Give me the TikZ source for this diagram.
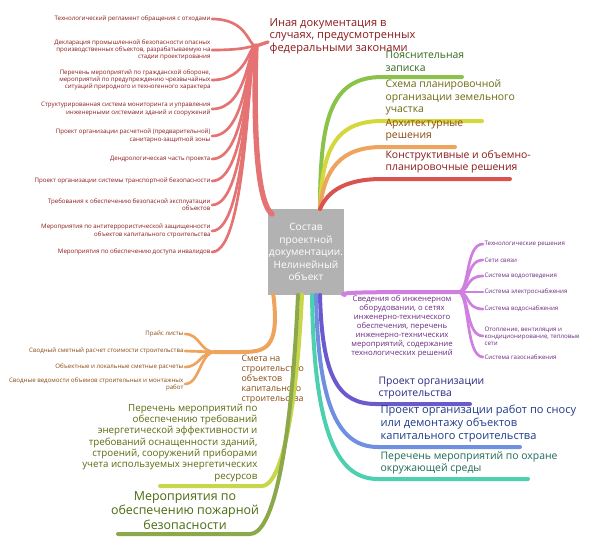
\documentclass[tikz,border=0pt]{standalone}
\usepackage{fontspec}
\setmainfont{Open Sans}
\begin{document}
\begin{tikzpicture}[x=0.75pt,y=-0.75pt,
  leaf/.style={font=\fontsize{4.6}{5.4}\selectfont,align=right,anchor=east,inner sep=1pt},
  rleaf/.style={font=\fontsize{4.6}{5.4}\selectfont,align=left,anchor=west,inner sep=1pt},
  main/.style={font=\fontsize{7.8}{9.4}\selectfont,align=left,anchor=south west,inner sep=1pt},
  br/.style={line width=#1,line cap=round},
  ]
\definecolor{cred}{HTML}{E57373}\definecolor{tred}{HTML}{8E2424}
\definecolor{cgreen}{HTML}{8BC34A}\definecolor{tgreen}{HTML}{33691E}
\definecolor{cyel}{HTML}{D4D83C}\definecolor{tyel}{HTML}{6D6A10}
\definecolor{corange}{HTML}{EFA45E}\definecolor{torange}{HTML}{8A4A10}
\definecolor{cbrick}{HTML}{D9534F}\definecolor{tbrick}{HTML}{8B1A1A}
\definecolor{cpurp}{HTML}{CE7FE0}\definecolor{tpurp}{HTML}{6A2A80}
\definecolor{cindigo}{HTML}{6A5ACD}\definecolor{tindigo}{HTML}{2A2A80}
\definecolor{cblue}{HTML}{6F8FE0}\definecolor{tblue}{HTML}{1F3A8A}
\definecolor{cteal}{HTML}{4DD0B0}\definecolor{tteal}{HTML}{1D6B5A}
\definecolor{colive}{HTML}{C8D64A}\definecolor{tolive}{HTML}{5C6B10}
\definecolor{cdolive}{HTML}{8DA84A}\definecolor{tdolive}{HTML}{4A6B10}
\useasboundingbox (0,0) rectangle (602,553);
\fill[white] (0,0) rectangle (602,553);
% center
\node[fill=black!30,text=white,minimum width=52pt,minimum height=64pt,align=center,font=\fontsize{7.6}{9.4}\selectfont,inner sep=1pt] (c) at (306,252) {Состав\\проектной\\документации.\\Нелинейный\\объект};
\coordinate (cT) at (320,209);
\coordinate (cNW) at (272,214);
% red branch
\coordinate (rh) at (256,46);
\node[main,text=tbrick,font=\fontsize{8.3}{9.6}\selectfont] (red) at (268,56) {Иная документация в\\случаях, предусмотренных\\федеральными законами};
\draw[cred,br=4pt] (cNW) .. controls (254,200) and (254,100) .. (rh);
\draw[cred,br=2.5pt] (rh) -- (268,42);
\foreach \y/\n/\t in {19/1/{Технологический регламент обращения с отходами},
50/2/{Декларация промышленной безопасности опасных\\производственных объектов, разрабатываемую на\\стадии проектирования},
80/3/{Перечень мероприятий по гражданской обороне,\\мероприятий по предупреждению чрезвычайных\\ситуаций природного и техногенного характера},
109/4/{Структурированная система мониторинга и управления\\инженерными системами зданий и сооружений},
136/5/{Проект организации расчетной (предварительной)\\санитарно-защитной зоны},
159/6/{Дендрологическая часть проекта},
181/7/{Проект организации системы транспортной безопасности},
205/8/{Требования к обеспечению безопасной эксплуатации\\объектов},
231/9/{Мероприятия по антитеррористической защищенности\\объектов капитального строительства},
252/10/{Мероприятия по обеспечению доступа инвалидов}}
{\node[leaf,text=tbrick] (rl\n) at (212,\y) {\t};
 \draw[cred,br=2pt] (rh) .. controls (248,46) and (248,\y) .. (rl\n.east);}
% right branches
\node[main,text=tgreen] (g1) at (384,73) {Пояснительная\\записка};
\draw[cgreen,br=3pt] (cT) .. controls (320,120) and (330,77) .. (382,77) -- (462,77);
\node[main,text=tyel] (g2) at (384,117) {Схема планировочной\\организации земельного\\участка};
\draw[cyel,br=3pt] (cT) .. controls (322,150) and (335,121) .. (382,121) -- (482,121);
\node[main,text=torange] (g3) at (384,143) {Архитектурные\\решения};
\draw[corange,br=3pt] (cT) .. controls (324,170) and (340,147) .. (382,147) -- (455,147);
\node[main,text=tbrick] (g4) at (384,175) {Конструктивные и объемно-\\планировочные решения};
\draw[cbrick,br=3pt] (cT) .. controls (326,195) and (340,179) .. (382,179) -- (510,179);
% purple
\node[font=\fontsize{5.8}{6.7}\selectfont,align=center,text=tpurp,anchor=north,inner sep=1pt] (p) at (402,294) {Сведения об инженерном\\оборудовании, о сетях\\инженерно-технического\\обеспечения, перечень\\инженерно-технических\\мероприятий, содержание\\технологических решений};
\coordinate (ph) at (458,292);
\draw[cpurp,br=3pt] (c.south east) .. controls (335,292) and (380,292) .. (ph);
\foreach \y/\n/\t in {244/1/{Технологические решения},260/2/{Сети связи},276/3/{Система водоотведения},292/4/{Система электроснабжения},309/5/{Система водоснабжения},336/6/{Отопление, вентиляция и\\кондиционирование, тепловые\\сети},357/7/{Система газоснабжения}}
{\node[rleaf,text=tpurp] (pl\n) at (483,\y) {\t};
 \draw[cpurp,br=2pt] (ph) .. controls (470,292) and (465,\y) .. (pl\n.west);}
\node[main,text=tindigo] (s1) at (377,401) {Проект организации\\строительства};
\draw[cindigo,br=3pt] (c.south) ++(14,0) .. controls (322,380) and (340,404) .. (376,404) -- (470,404);
\node[main,text=tblue,font=\fontsize{8.3}{9.8}\selectfont] (s2) at (379,444) {Проект организации работ по сносу\\или демонтажу объектов\\капитального строительства};
\draw[cblue,br=3pt] (c.south) ++(10,0) .. controls (318,410) and (340,447) .. (378,447) -- (520,447);
\node[main,text=tteal] (s3) at (379,476) {Перечень мероприятий по охране\\окружающей среды};
\draw[cteal,br=3pt] (c.south) ++(6,0) .. controls (314,440) and (340,479) .. (378,479) -- (528,479);
% left lower
\node[font=\fontsize{6.6}{7.4}\selectfont,align=left,anchor=north west,inner sep=1pt,text=torange] (sm) at (240,354) {Смета на\\строительство\\объектов\\капитального\\строительства};
\coordinate (sh) at (240,352);
\draw[corange,br=3pt] (c.south west) ++(6,0) .. controls (280,350) and (265,352) .. (sh) -- (215,352);
\foreach \y/\n/\t in {334/1/{Прайс листы},351/2/{Сводный сметный расчет стоимости строительства},367/3/{Объектные и локальные сметные расчеты},384/4/{Сводные ведомости объемов строительных и монтажных\\работ}}
{\node[leaf,text=torange] (ol\n) at (185,\y) {\t};
 \draw[corange,br=2pt] (215,352) .. controls (200,352) and (200,\y) .. (ol\n.east);}
\node[font=\fontsize{7.3}{8.5}\selectfont,align=right,anchor=south east,text=tolive,inner sep=1pt] (en) at (259,483) {Перечень мероприятий по\\обеспечению требований\\энергетической эффективности и\\требований оснащенности зданий,\\строений, сооружений приборами\\учета используемых энергетических\\ресурсов};
\draw[colive,br=3pt] (c.south) ++(-4,0) .. controls (296,420) and (280,486) .. (262,486) -- (160,486);
\node[font=\fontsize{9.3}{10.8}\selectfont,align=center,anchor=south,text=tdolive,inner sep=1pt] (fire) at (185,531) {Мероприятия по\\обеспечению пожарной\\безопасности};
\draw[cdolive,br=3pt] (c.south) ++(-8,0) .. controls (290,470) and (270,534) .. (250,534) -- (118,534);
\end{tikzpicture}
\end{document}
